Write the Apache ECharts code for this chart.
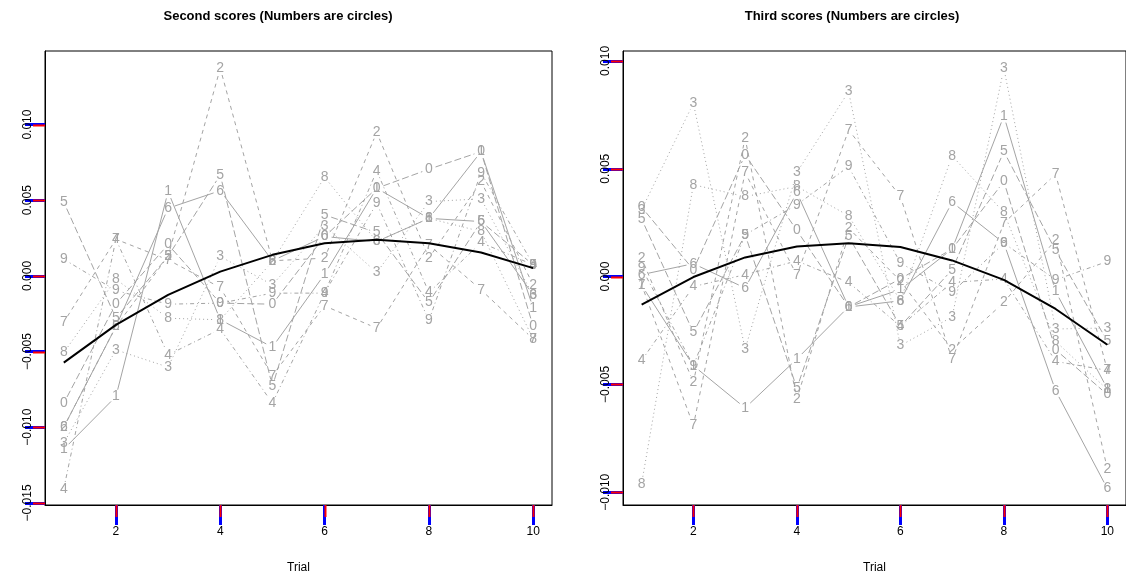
<!DOCTYPE html>
<html>
<head>
<meta charset="utf-8">
<script src="https://cdn.jsdelivr.net/npm/echarts@6/dist/echarts.min.js"></script>
<style>
  html, body { margin: 0; padding: 0; background: #ffffff; }
  #chart { width: 1126px; height: 579px; }
</style>
</head>
<body>
<div id="chart"></div>
<script>
const trials = [1, 2, 3, 4, 5, 6, 7, 8, 9, 10];
const circleLabels = ['0', '1', '2', '3', '4', '5', '6', '7', '8', '9'];
const secondScores = [
  [-0.00841, -0.00185, 0.00207, -0.00180, -0.00187, 0.00260, 0.00579, 0.00705, 0.00821, -0.00335],
  [-0.01145, -0.00797, 0.00557, -0.00290, -0.00471, 0.00011, 0.00579, 0.00380, 0.00821, -0.00213],
  [-0.00999, -0.00335, 0.00130, 0.01372, 0.00100, 0.00117, 0.00949, 0.00117, 0.00623, -0.00059],
  [-0.01105, -0.00489, -0.00603, 0.00128, -0.00059, 0.00330, 0.00022, 0.00491, 0.00509, -0.00130],
  [-0.01407, 0.00242, -0.00522, -0.00352, -0.00841, -0.00114, 0.00694, -0.00110, 0.00220, 0.00073],
  [0.00487, -0.00279, 0.00130, 0.00667, -0.00730, 0.00403, 0.00286, -0.00176, 0.00359, 0.00073],
  [-0.00999, -0.00335, 0.00447, 0.00563, 0.00100, 0.00260, 0.00227, 0.00380, 0.00359, -0.00126],
  [-0.00306, 0.00242, 0.00106, -0.00077, -0.00660, -0.00198, -0.00346, 0.00205, -0.00092, -0.00418],
  [-0.00507, -0.00022, -0.00280, -0.00290, 0.00095, 0.00652, 0.00227, 0.00380, 0.00293, -0.00418],
  [0.00110, -0.00097, -0.00187, -0.00180, -0.00114, -0.00114, 0.00480, -0.00295, 0.00682, 0.00073]
];
const secondMean = [-0.00573, -0.00324, -0.00126, 0.00028, 0.00139, 0.00216, 0.00238, 0.00216, 0.00154, 0.00051];
const thirdScores = [
  [0.00322, 0.00032, 0.00565, 0.00214, -0.00141, -0.00010, 0.00128, 0.00441, -0.00339, -0.00547],
  [-0.00040, -0.00413, -0.00609, -0.00382, -0.00140, -0.00060, 0.00128, 0.00745, -0.00069, -0.00520],
  [0.00086, -0.00490, 0.00642, -0.00568, 0.00225, -0.00020, -0.00339, -0.00120, 0.00171, -0.00892],
  [0.00310, 0.00804, -0.00336, 0.00483, 0.00858, -0.00320, -0.00187, 0.00966, -0.00243, -0.00238],
  [-0.00389, -0.00046, 0.00009, 0.00073, -0.00027, -0.00230, -0.00027, -0.00011, -0.00393, -0.00435],
  [0.00267, -0.00259, 0.00194, -0.00517, 0.00186, -0.00230, 0.00032, 0.00580, 0.00121, -0.00300],
  [0.00009, 0.00060, -0.00053, 0.00390, -0.00141, -0.00112, 0.00345, 0.00155, -0.00529, -0.00983],
  [-0.00038, -0.00691, 0.00483, 0.00005, 0.00680, 0.00372, -0.00385, 0.00248, 0.00475, -0.00435],
  [-0.00960, 0.00426, 0.00371, 0.00418, 0.00282, -0.00112, 0.00560, 0.00297, -0.00300, -0.00524],
  [0.00040, -0.00413, 0.00194, 0.00333, 0.00510, 0.00063, -0.00073, 0.00155, -0.00015, 0.00070]
];
const thirdMean = [-0.00130, -0.00002, 0.00089, 0.00140, 0.00155, 0.00137, 0.00075, -0.00015, -0.00150, -0.00316];
const xTicks = [2, 4, 6, 8, 10];
const secondYTicks = [-0.015, -0.010, -0.005, 0, 0.005, 0.010];
const thirdYTicks = [-0.010, -0.005, 0, 0.005, 0.010];
const X_MIN = 0.64, X_MAX = 10.36;
const SECOND_Y = [-0.01514, 0.01486];
const THIRD_Y = [-0.01059, 0.01046];
const GRAY = '#a4a4a4';
const FONT = '"Liberation Sans", Arial, Helvetica, sans-serif';
const GAP = 7;
const TICK_LEN = 8;
const DASHES = { 1: null, 2: [4, 4], 3: [1, 3], 4: [1, 3, 4, 3], 5: [7, 3] };
function ltyOf(circle) { const col = circle === 0 ? 10 : circle; return ((col - 1) % 5) + 1; }
function fmtTick(v) {
  if (Math.abs(v) < 1e-12) return '0.000';
  return (v < 0 ? '\u2212' : '') + Math.abs(v).toFixed(3);
}
function segmentsOf(values) {
  const out = [];
  for (let i = 0; i < values.length - 1; i++) out.push([trials[i], values[i], trials[i + 1], values[i + 1]]);
  return out;
}
function gapSegmentRenderer(dash) {
  return function (params, api) {
    const a = api.coord([api.value(0), api.value(1)]);
    const b = api.coord([api.value(2), api.value(3)]);
    const dx = b[0] - a[0], dy = b[1] - a[1];
    const d = Math.hypot(dx, dy);
    if (d <= 2 * GAP) return { type: 'group', children: [] };
    const ux = dx / d, uy = dy / d;
    return { type: 'line',
      shape: { x1: a[0] + ux * GAP, y1: a[1] + uy * GAP, x2: b[0] - ux * GAP, y2: b[1] - uy * GAP },
      style: { stroke: GRAY, lineWidth: 1, lineDash: dash, fill: null } };
  };
}
function digitRenderer(label) {
  return function (params, api) {
    const p = api.coord([api.value(0), api.value(1)]);
    return { type: 'text', x: p[0], y: p[1],
      style: { text: label, fill: GRAY, font: '14px ' + FONT, align: 'center', verticalAlign: 'middle' } };
  };
}
function panelSeries(scores, mean, axisIdx) {
  const series = [];
  [1, 2, 3, 4, 5, 6, 7, 8, 9, 0].forEach(function (c) {
    const vals = scores[c];
    series.push({ type: 'custom', xAxisIndex: axisIdx, yAxisIndex: axisIdx,
      renderItem: gapSegmentRenderer(DASHES[ltyOf(c)]), encode: { x: [0, 2], y: [1, 3] },
      data: segmentsOf(vals), silent: true, z: 2 });
    series.push({ type: 'custom', xAxisIndex: axisIdx, yAxisIndex: axisIdx,
      renderItem: digitRenderer(circleLabels[c]), encode: { x: 0, y: 1 },
      data: trials.map(function (t, i) { return [t, vals[i]]; }), silent: true, z: 3 });
  });
  series.push({ type: 'line', xAxisIndex: axisIdx, yAxisIndex: axisIdx,
    data: trials.map(function (t, i) { return [t, mean[i]]; }), symbol: 'none',
    lineStyle: { color: '#000000', width: 2 }, silent: true, z: 4 });
  return series;
}
function xAxisOf(gridIdx) {
  return { type: 'value', gridIndex: gridIdx, min: X_MIN, max: X_MAX,
    name: 'Trial', nameLocation: 'middle', nameGap: 57,
    nameTextStyle: { color: '#000', fontSize: 12, fontFamily: FONT },
    axisLine: { show: true, onZero: false, lineStyle: { color: '#000000', width: 1 } },
    splitLine: { show: false },
    axisTick: { show: true, length: 20, customValues: xTicks, lineStyle: { color: '#0000ff', width: 3 } },
    axisLabel: { customValues: xTicks, color: '#000', fontSize: 12, fontFamily: FONT, margin: 21 } };
}
function yAxisOf(gridIdx, ext, ticks) {
  return { type: 'value', gridIndex: gridIdx, min: ext[0], max: ext[1],
    axisLine: { show: true, onZero: false, lineStyle: { color: '#000000', width: 1 } },
    splitLine: { show: false },
    axisTick: { show: true, length: 20, customValues: ticks, lineStyle: { color: '#0000ff', width: 3 } },
    axisLabel: { customValues: ticks, color: '#000', fontSize: 12, fontFamily: FONT,
      rotate: 90, margin: 11, formatter: fmtTick } };
}
const titles = [
  { id: 't0', type: 'text', x: 278, y: 16, z: 100, style: { text: 'Second scores (Numbers are circles)', font: 'bold 13px ' + FONT, fill: '#000', align: 'center', verticalAlign: 'middle' } },
  { id: 't1', type: 'text', x: 852, y: 16, z: 100, style: { text: 'Third scores (Numbers are circles)', font: 'bold 13px ' + FONT, fill: '#000', align: 'center', verticalAlign: 'middle' } }
];
const chart = echarts.init(document.getElementById('chart'), null, { renderer: 'canvas' });
chart.setOption({
  animation: false, backgroundColor: '#ffffff', graphic: titles,
  grid: [
    { left: 45, top: 51, width: 507, height: 454, show: true, borderColor: '#000', borderWidth: 1 },
    { left: 623, top: 51, width: 509, height: 454, show: true, borderColor: '#000', borderWidth: 1 }
  ],
  xAxis: [xAxisOf(0), xAxisOf(1)],
  yAxis: [yAxisOf(0, SECOND_Y, secondYTicks), yAxisOf(1, THIRD_Y, thirdYTicks)],
  series: panelSeries(secondScores, secondMean, 0).concat(panelSeries(thirdScores, thirdMean, 1))
});
function tickMarks(panel, yExt, yTicks) {
  const finder = { xAxisIndex: panel, yAxisIndex: panel };
  const marks = [];
  xTicks.forEach(function (t, k) {
    const p = chart.convertToPixel(finder, [t, yExt[0]]);
    const x = Math.round(p[0]) + 0.5, y = Math.round(p[1]);
    marks.push({ id: 'xt' + panel + '_' + k, type: 'line', z: 100, silent: true,
      shape: { x1: x, y1: y, x2: x, y2: y + 12 }, style: { stroke: '#ff0000', lineWidth: 2 } });
  });
  yTicks.forEach(function (v, k) {
    const p = chart.convertToPixel(finder, [X_MIN, v]);
    const x = Math.round(p[0]), y = Math.round(p[1]) + 0.5;
    marks.push({ id: 'yt' + panel + '_' + k, type: 'line', z: 100, silent: true,
      shape: { x1: x, y1: y, x2: x - 12, y2: y }, style: { stroke: '#ff0000', lineWidth: 2 } });
  });
  return marks;
}
chart.setOption({ graphic: titles.concat(tickMarks(0, SECOND_Y, secondYTicks)).concat(tickMarks(1, THIRD_Y, thirdYTicks)) });
</script>
</body>
</html>
